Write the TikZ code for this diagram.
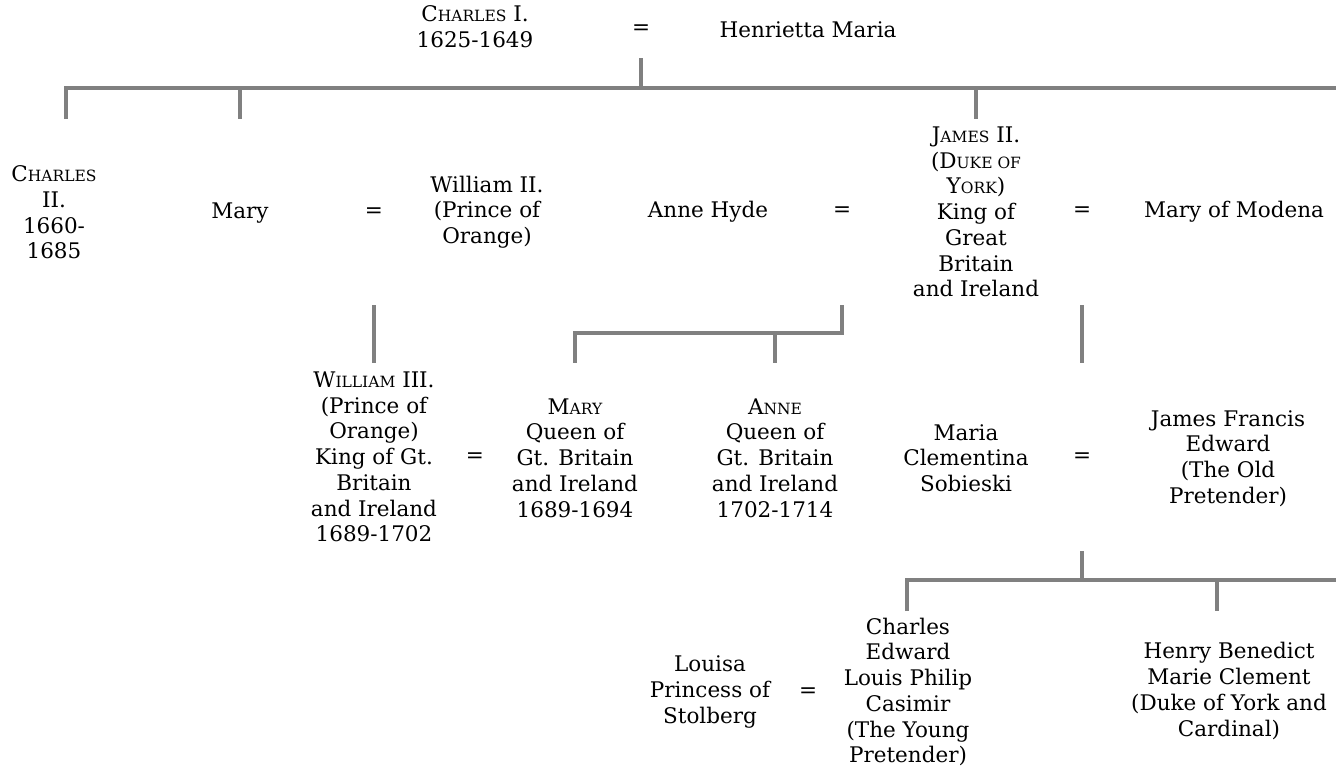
\documentclass[tikz,border=0pt]{standalone}
\usepackage{fontspec}
\setmainfont{DejaVu Serif}
\newcommand\smc[1]{{\fontsize{15.5}{15.5}\selectfont #1}}
\begin{document}
\begin{tikzpicture}[x=1pt,y=-1pt,
 person/.style={align=center,inner sep=0pt,font=\fontsize{21.5}{25.7}\selectfont},
 eq/.style={inner sep=0pt,font=\fontsize{21.5}{25.7}\selectfont},
 line/.style={draw=black!50,line width=3.8pt}]
\useasboundingbox (0,0) rectangle (1336,769);
% generation 1
\node[person] (c1) at (475,27) {C\smc{HARLES} I.\\1625-1649};
\node[eq] (e1) at (641,30) {=};
\node[person] (hm) at (808,30) {Henrietta Maria};
% generation 2
\node[person] (c2) at (54,212.5) {C\smc{HARLES}\\II.\\1660-\\1685};
\node[person] (mary) at (240,213) {Mary};
\node[eq] (e2) at (374,213) {=};
\node[person] (w2) at (487,212) {William II.\\(Prince of\\Orange)};
\node[person] (ah) at (708,212) {Anne Hyde};
\node[eq] (e3) at (842,212) {=};
\node[person] (j2) at (976,212) {J\smc{AMES} II.\\(D\smc{UKE OF}\\Y\smc{ORK})\\King of\\Great\\Britain\\and Ireland};
\node[eq] (e4) at (1082,212) {=};
\node[person] (mm) at (1234,212) {Mary of Modena};
% generation 3
\node[person] (w3) at (374,457) {W\smc{ILLIAM} III.\\(Prince of\\Orange)\\King of Gt.\\Britain\\and Ireland\\1689-1702};
\node[eq] (e5) at (475,458) {=};
\node[person] (mq) at (575,458) {M\smc{ARY}\\Queen of\\Gt. Britain\\and Ireland\\1689-1694};
\node[person] (aq) at (775,458) {A\smc{NNE}\\Queen of\\Gt. Britain\\and Ireland\\1702-1714};
\node[person] (mc) at (966,458) {Maria\\Clementina\\Sobieski};
\node[eq] (e6) at (1082,458) {=};
\node[person] (jf) at (1228,458.5) {James Francis\\Edward\\(The Old\\Pretender)};
% generation 4
\node[person] (lo) at (710,692) {Louisa\\Princess of\\Stolberg};
\node[eq] (e7) at (808,693) {=};
\node[person] (ce) at (908,692) {Charles\\Edward\\Louis Philip\\Casimir\\(The Young\\Pretender)};
\node[person] (hb) at (1229,691) {Henry Benedict\\Marie Clement\\(Duke of York and\\Cardinal)};
% connector points
\coordinate (p1) at (641,58);
\coordinate (b1) at (641,88);
\coordinate (b1l) at (66,88);
\coordinate (b1r) at (1336,88);
\coordinate (k1a) at (66,119);
\coordinate (k1bt) at (240,88);
\coordinate (k1b) at (240,119);
\coordinate (k1ct) at (976,88);
\coordinate (k1c) at (976,119);
\coordinate (p2) at (374,305);
\coordinate (k2) at (374,363);
\coordinate (p3) at (842,305);
\coordinate (b3) at (842,333);
\coordinate (b3l) at (575,333);
\coordinate (k3a) at (575,363);
\coordinate (k3bt) at (775,333);
\coordinate (k3b) at (775,363);
\coordinate (p4) at (1082,305);
\coordinate (k4) at (1082,363);
\coordinate (p5) at (1082,551);
\coordinate (b5) at (1082,580);
\coordinate (b5l) at (907,580);
\coordinate (b5r) at (1336,580);
\coordinate (k5a) at (907,611);
\coordinate (k5bt) at (1217,580);
\coordinate (k5b) at (1217,611);
% connectors
\draw[line] (p1) -- (b1);
\draw[line] (k1a) -- (b1l) -- (b1r);
\draw[line] (k1bt) -- (k1b);
\draw[line] (k1ct) -- (k1c);
\draw[line] (p2) -- (k2);
\draw[line] (p3) -- (b3) -- (b3l) -- (k3a);
\draw[line] (k3bt) -- (k3b);
\draw[line] (p4) -- (k4);
\draw[line] (p5) -- (b5);
\draw[line] (k5a) -- (b5l) -- (b5r);
\draw[line] (k5bt) -- (k5b);
\end{tikzpicture}
\end{document}
